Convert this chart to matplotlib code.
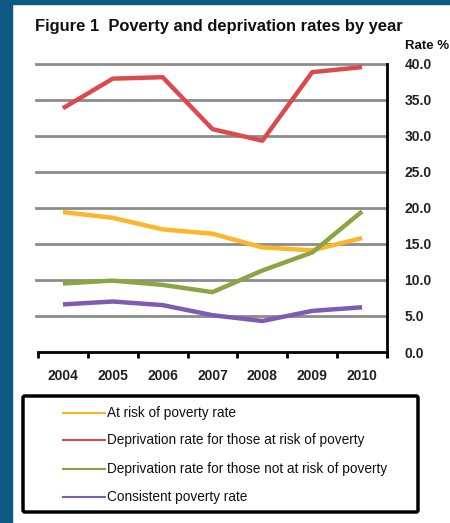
import matplotlib.pyplot as plt
from matplotlib.lines import Line2D
from matplotlib.patches import FancyBboxPatch, Rectangle

years = ["2004", "2005", "2006", "2007", "2008", "2009", "2010"]
at_risk = [19.4, 18.6, 17.0, 16.4, 14.5, 14.1, 15.8]
depr_at_risk = [33.8, 37.9, 38.1, 30.9, 29.3, 38.8, 39.5]
depr_not_at_risk = [9.5, 9.9, 9.3, 8.3, 11.3, 13.8, 19.5]
consistent = [6.6, 7.0, 6.5, 5.1, 4.3, 5.7, 6.2]
y_ticks = [0, 5, 10, 15, 20, 25, 30, 35, 40]

series = [
    ("At risk of poverty rate", at_risk, "#fbb62a"),
    ("Deprivation rate for those at risk of poverty", depr_at_risk, "#dc4b4b"),
    ("Deprivation rate for those not at risk of poverty", depr_not_at_risk, "#8aa542"),
    ("Consistent poverty rate", consistent, "#7d5cb4"),
]

plt.rcParams['font.family'] = ['Liberation Sans', 'DejaVu Sans']

fig = plt.figure(figsize=(4.5, 5.23), dpi=100)
W, H = 450, 523

# blue frame on the left and top
fig.patches.append(Rectangle((0, 0), 12 / W, 1, transform=fig.transFigure,
                             color="#0e5884", zorder=0))
fig.patches.append(Rectangle((0, 1 - 4 / H), 1, 4 / H, transform=fig.transFigure,
                             color="#0e5884", zorder=0))

fig.text(35 / W, 1 - 27 / H, "Figure 1  Poverty and deprivation rates by year",
         fontsize=11.9, fontweight="bold", va="center", ha="left", color="#111111")

ax = fig.add_axes([38 / W, 1 - 352 / H, 349 / W, 288.5 / H])
x = [i + 0.5 for i in range(len(years))]

for label, vals, col in series:
    ax.plot(x, vals, color=col, lw=3.2, solid_capstyle="butt", zorder=3)

ax.set_xlim(0, len(years))
ax.set_ylim(0, 40)
for v in y_ticks[1:]:
    ax.axhline(v, color="#8c8c8c", lw=2, zorder=1, xmin=-0.006, clip_on=False)

for side in ["top", "left"]:
    ax.spines[side].set_visible(False)
ax.spines["bottom"].set_linewidth(2)
ax.spines["right"].set_linewidth(2)
ax.spines["right"].set_bounds(-0.5, 40)

ax.set_xticks(range(len(years) + 1))
ax.set_xticklabels([])
ax.tick_params(axis="x", direction="out", length=4, width=2, color="black")
for xi, yr in zip(x, years):
    ax.text(xi, -3.3, yr, ha="center", va="center", fontsize=10,
            fontweight="bold", color="#222222")

ax.yaxis.tick_right()
ax.set_yticks(y_ticks)
ax.set_yticklabels(["%.1f" % v for v in y_ticks], fontsize=10,
                   fontweight="bold", color="#222222")
ax.tick_params(axis="y", length=0, pad=12.5)
fig.text(405 / W, 1 - 46 / H, "Rate %", fontsize=9.5, fontweight="bold",
         va="center", ha="left", color="#111111")

# legend box
fig.patches.append(FancyBboxPatch((23 / W, 1 - 512 / H), 395 / W, 116 / H,
                                  boxstyle="round,pad=0,rounding_size=0.004",
                                  transform=fig.transFigure, fill=False,
                                  ec="black", lw=2.5))
row_y = [413, 440, 469, 497]
for (label, vals, col), ry in zip(series, row_y):
    fig.lines.append(Line2D([63 / W, 105 / W], [1 - ry / H, 1 - ry / H],
                            transform=fig.transFigure, color=col, lw=1.5))
    fig.text(107 / W, 1 - ry / H, label, fontsize=9.8, va="center", ha="left",
             color="#111111")

fig.savefig("out.png", dpi=100)
